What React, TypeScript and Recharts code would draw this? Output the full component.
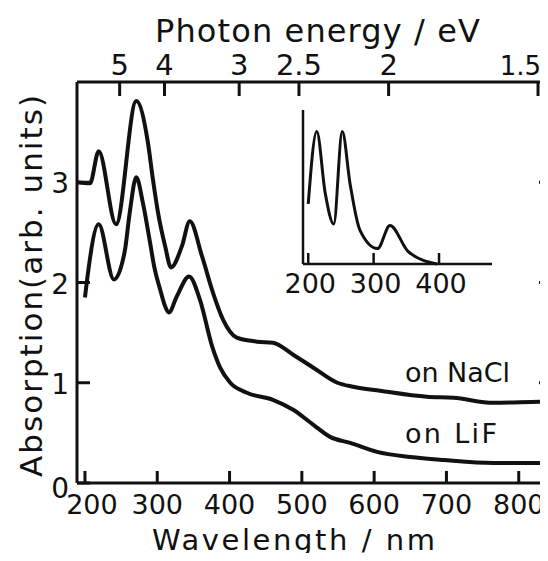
import React from "react";
import { LineChart, Line, XAxis, YAxis, Label } from "recharts";

const FONT = '"DejaVu Sans", "Liberation Sans", sans-serif';
const INK = "#111";

// main panel, absorption vs wavelength (nm)
const naclWavelength = [189, 207, 219, 243, 271, 287, 294, 301, 311, 319, 334, 345, 362, 377, 391, 410, 438, 460, 488, 516, 549, 571, 608, 673, 710, 765, 839, 846];
const naclAbs = [3.0, 2.99, 3.31, 2.58, 3.81, 3.4, 3.03, 2.7, 2.36, 2.15, 2.36, 2.61, 2.26, 1.9, 1.63, 1.45, 1.41, 1.4, 1.28, 1.15, 1.0, 0.96, 0.92, 0.86, 0.85, 0.8, 0.81, 0.81];

const lifWavelength = [200, 203, 219, 240, 255, 262, 271, 280, 290, 296, 304, 311, 316, 327, 344, 359, 376, 387, 401, 424, 460, 488, 516, 539, 567, 604, 650, 696, 765, 846];
const lifAbs = [1.85, 2.03, 2.58, 2.03, 2.31, 2.7, 3.05, 2.8, 2.4, 2.15, 1.93, 1.76, 1.7, 1.86, 2.06, 1.83, 1.36, 1.15, 1.0, 0.9, 0.83, 0.73, 0.58, 0.46, 0.4, 0.31, 0.26, 0.23, 0.2, 0.2];

// inset
const insetWavelength = [200, 213, 226, 239, 252, 264, 279, 306, 325, 353, 397];
const insetAbs = [0.39, 0.86, 0.46, 0.26, 0.86, 0.52, 0.22, 0.1, 0.25, 0.08, 0.0];

const wavelengthTicks = [200, 300, 400, 500, 600, 700, 800];
const energyTicks = [5, 4, 3, 2.5, 2, 1.5];
const absTicks = [0, 1, 2, 3];
const rightTicks = [1, 2, 3];
const insetTicks = [200, 300, 400];

const zip = (xs: number[], ys: number[]) => xs.map((x, i) => ({ x, y: ys[i] }));
const naclData = zip(naclWavelength, naclAbs);
const lifData = zip(lifWavelength, lifAbs);
const insetData = zip(insetWavelength, insetAbs);

const axisLine = { stroke: INK, strokeWidth: 3 };

const BottomTick = ({ x, y, payload }: any) => (
  <g>
    <line x1={x} x2={x} y1={y} y2={y - 12} stroke={INK} strokeWidth={3} />
    <text x={x + (payload.value === 200 ? 7 : 0)} y={y + 31} textAnchor="middle" fontSize={27} fontFamily={FONT} fill={INK}>
      {payload.value}
    </text>
  </g>
);

const TopTick = ({ x, y, payload }: any) => {
  const ev = Math.round((1240 / payload.value) * 10) / 10;
  // last label sits against the right edge, keep it inside
  const last = ev === 1.5;
  return (
    <g>
      <line x1={x} x2={x} y1={y} y2={y + 14} stroke={INK} strokeWidth={3} />
      <text
        x={last ? 541 : x}
        y={y - 7}
        textAnchor={last ? "end" : "middle"}
        fontSize={last ? 26 : 29}
        fontFamily={FONT}
        fill={INK}
      >
        {ev}
      </text>
    </g>
  );
};

const LeftTick = ({ x, y, payload }: any) => (
  <g>
    <line x1={x} x2={x + 13} y1={y} y2={y} stroke={INK} strokeWidth={3} />
    <text x={x - 8} y={y + (payload.value === 0 ? 15 : 11)} textAnchor="end" fontSize={28} fontFamily={FONT} fill={INK}>
      {payload.value}
    </text>
  </g>
);

const RightTick = ({ x, y }: any) => (
  <line x1={x} x2={x - 13} y1={y} y2={y} stroke={INK} strokeWidth={3} />
);

const InsetTick = ({ x, y, payload }: any) => (
  <g>
    <line x1={x} x2={x} y1={y} y2={y - 11} stroke={INK} strokeWidth={2.5} />
    <text x={x + 2} y={y + 29} textAnchor="middle" fontSize={27} fontFamily={FONT} fill={INK}>
      {payload.value}
    </text>
  </g>
);

export default function App() {
  return (
    <div style={{ position: "relative", width: 548, height: 561, margin: -8, overflow: "hidden", background: "#fff" }}>
      <LineChart width={570} height={561} margin={{ top: 0, right: 0, bottom: 0, left: 0 }}>
        <XAxis
          xAxisId="b"
          type="number"
          dataKey="x"
          domain={[189, 846]}
          ticks={wavelengthTicks}
          interval={0}
          height={78}
          axisLine={axisLine}
          tickLine={false}
          tickSize={0}
          tickMargin={0}
          tick={BottomTick}
          allowDataOverflow
        >
          <Label
            content={() => (
              <text x={152} y={550} textLength={283} lengthAdjust="spacing" fontSize={29} fontFamily={FONT} fill={INK}>
                Wavelength / nm
              </text>
            )}
          />
        </XAxis>
        <XAxis
          xAxisId="t"
          orientation="top"
          type="number"
          dataKey="x"
          domain={[189, 846]}
          ticks={energyTicks.map((e) => 1240 / e)}
          interval={0}
          height={82}
          axisLine={axisLine}
          tickLine={false}
          tickSize={0}
          tickMargin={0}
          tick={TopTick}
          allowDataOverflow
        >
          <Label
            content={() => (
              <text x={155} y={42} textLength={325} lengthAdjust="spacing" fontSize={32} fontFamily={FONT} fill={INK}>
                Photon energy / eV
              </text>
            )}
          />
        </XAxis>
        <YAxis
          yAxisId="l"
          type="number"
          domain={[0, 4]}
          ticks={absTicks}
          interval={0}
          width={77}
          axisLine={axisLine}
          tickLine={false}
          tickSize={0}
          tickMargin={0}
          tick={LeftTick}
          allowDataOverflow
        >
          <Label
            content={() => (
              <text
                transform="translate(42,286) rotate(-90)"
                x={0}
                y={0}
                textAnchor="middle"
                textLength={382}
                lengthAdjust="spacing"
                fontSize={31}
                fontFamily={FONT}
                fill={INK}
              >
                Absorption(arb. units)
              </text>
            )}
          />
        </YAxis>
        <YAxis
          yAxisId="r"
          orientation="right"
          type="number"
          domain={[0, 4]}
          ticks={rightTicks}
          interval={0}
          width={18}
          axisLine={axisLine}
          tickLine={false}
          tickSize={0}
          tickMargin={0}
          tick={RightTick}
          allowDataOverflow
        />
        <Line
          xAxisId="t"
          yAxisId="l"
          data={naclData}
          dataKey="y"
          type="monotone"
          stroke={INK}
          strokeWidth={4}
          strokeLinejoin="round"
          dot={false}
          isAnimationActive={false}
        />
        <Line
          xAxisId="b"
          yAxisId="r"
          data={lifData}
          dataKey="y"
          type="monotone"
          stroke={INK}
          strokeWidth={4}
          strokeLinejoin="round"
          dot={false}
          isAnimationActive={false}
        />
        <text x={405} y={382} textLength={105} lengthAdjust="spacing" fontSize={27} fontFamily={FONT} fill={INK}>
          on NaCl
        </text>
        <text x={405} y={443} textLength={92} lengthAdjust="spacing" fontSize={27} fontFamily={FONT} fill={INK}>
          on LiF
        </text>
      </LineChart>

      <div style={{ position: "absolute", left: 273, top: 100 }}>
        <LineChart width={219} height={204} margin={{ top: 10, right: 0, bottom: 0, left: 0 }}>
          <XAxis
            type="number"
            dataKey="x"
            domain={[192, 481]}
            ticks={insetTicks}
            interval={0}
            height={40}
            axisLine={{ stroke: INK, strokeWidth: 2.5 }}
            tickLine={false}
            tickSize={0}
            tickMargin={0}
            tick={InsetTick}
            allowDataOverflow
          />
          <YAxis
            type="number"
            domain={[0, 1]}
            width={30}
            axisLine={{ stroke: INK, strokeWidth: 2.5 }}
            tick={false}
            tickLine={false}
          />
          <Line
            data={insetData}
            dataKey="y"
            type="monotone"
            stroke={INK}
            strokeWidth={3}
            strokeLinejoin="round"
            dot={false}
            isAnimationActive={false}
          />
        </LineChart>
      </div>
    </div>
  );
}
